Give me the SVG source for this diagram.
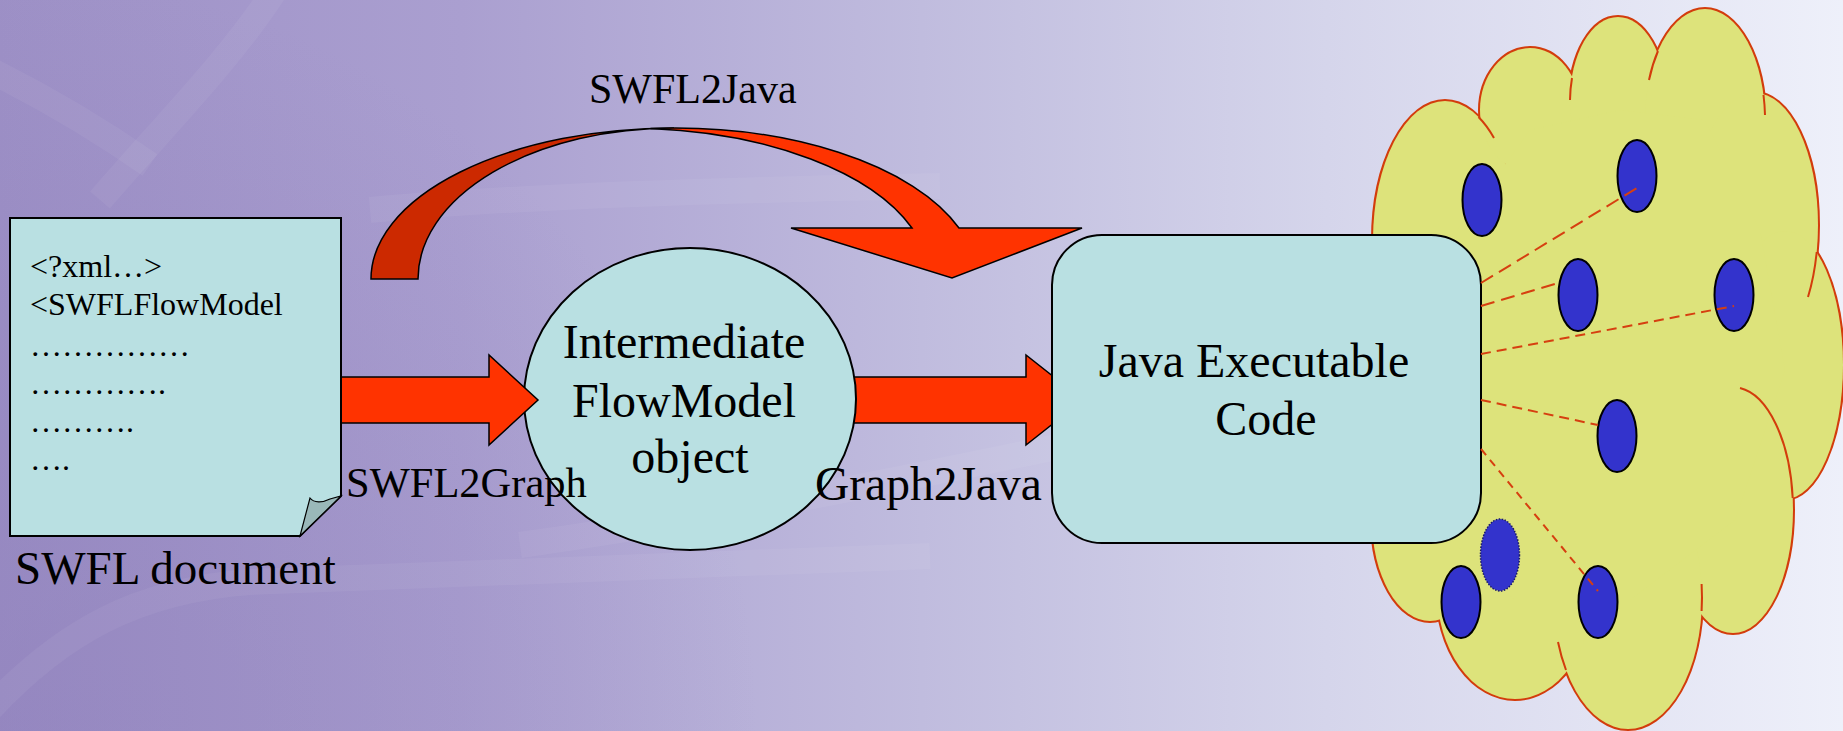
<svg xmlns="http://www.w3.org/2000/svg" xmlns:xlink="http://www.w3.org/1999/xlink" width="1843" height="731" viewBox="0 0 1843 731">
  <style>
    .serif { font-family: "Liberation Serif", "Times New Roman", serif; fill: #000; }
    .node-fill { fill: #b9e0e2; stroke: #000; stroke-width: 2; }
    .block { fill: #ff3300; stroke: #000; stroke-width: 1.5; stroke-linejoin: miter; }
    .block-back { fill: #cc2900; stroke: #000; stroke-width: 1.5; }
    .token { fill: #3333cc; stroke: #000; stroke-width: 2; }
    .token-ghost { fill: #3333cc; stroke: #1a1a66; stroke-width: 1.5; stroke-dasharray: 1.5 1.5; }
    .link { fill: none; stroke: #d63f10; stroke-width: 2; }
    .stub { fill: none; stroke: #d33c0c; stroke-width: 2; }
    .band { fill: none; stroke: #ffffff; stroke-opacity: 0.05; stroke-width: 26; }
  </style>
  <defs>
    <linearGradient id="bg" x1="0" y1="0" x2="1" y2="0">
      <stop offset="0" stop-color="#9d90c6"/>
      <stop offset="0.25" stop-color="#aa9fd0"/>
      <stop offset="0.5" stop-color="#c0bcde"/>
      <stop offset="0.72" stop-color="#d5d5eb"/>
      <stop offset="1" stop-color="#eef0fa"/>
    </linearGradient>
    <radialGradient id="shade" cx="0" cy="731" r="760" gradientUnits="userSpaceOnUse">
      <stop offset="0" stop-color="#8a7bb8" stop-opacity="0.45"/>
      <stop offset="1" stop-color="#8a7bb8" stop-opacity="0"/>
    </radialGradient>
    <!-- lobes of the cloud; drawn twice: stroked, then filled on top so only the outer rim stays -->
    <g id="lobes">
      <ellipse cx="1445" cy="240" rx="72" ry="139"/>
      <ellipse cx="1530" cy="110" rx="50" ry="62"/>
      <ellipse cx="1618" cy="100" rx="48" ry="83"/>
      <ellipse cx="1705" cy="120" rx="60" ry="111"/>
      <ellipse cx="1755" cy="225" rx="63" ry="132"/>
      <ellipse cx="1785" cy="365" rx="58" ry="134"/>
      <ellipse cx="1733" cy="510" rx="60" ry="123"/>
      <ellipse cx="1628" cy="598" rx="74" ry="131"/>
      <ellipse cx="1515" cy="590" rx="78" ry="109"/>
      <ellipse cx="1430" cy="520" rx="58" ry="101"/>
    </g>
  </defs>

  <!-- slide background -->
  <rect x="0" y="0" width="1843" height="731" fill="url(#bg)"/>
  <rect x="0" y="0" width="1843" height="731" fill="url(#shade)"/>
  <g id="backdrop-swirls">
    <path class="band" d="M275,-10 C230,60 160,130 100,200"/>
    <path class="band" d="M-10,70 C40,95 100,130 150,165"/>
    <path class="band" d="M370,210 C520,196 720,190 940,186"/>
    <path class="band" d="M-20,720 C60,630 140,590 250,582 L930,556"/>
    <path class="band" d="M520,545 C700,520 900,480 1090,440"/>
  </g>

  <!-- connectors -->
  <g id="connectors">
    <!-- SWFL2Java curved arrow -->
    <path class="block-back" d="M371,279 A303,151 0 0 1 674,128 A256,151 0 0 0 418,279 Z"/>
    <path class="block" d="M650.5,128.5 A303,151 0 0 1 959,228 L1082,228 L952,278 L791,228 L912,228 A303,151 0 0 0 650.5,128.5 Z"/>
    <!-- Graph2Java block arrow (tail hidden under the ellipse) -->
    <path id="arrow-graph2java" class="block" d="M830,377 L1026,377 L1026,355 L1083,400 L1026,445 L1026,423 L830,423 Z"/>
  </g>

  <g id="node-flowmodel">
    <ellipse class="node-fill" cx="690" cy="399" rx="166" ry="151" stroke-width="1.5"/>
    <text class="serif" font-size="48" text-anchor="middle">
      <tspan x="690" y="358">Intermediate</tspan>
      <tspan x="690" y="417">FlowModel</tspan>
      <tspan x="690" y="473">object</tspan>
    </text>
  </g>

  <g id="connector-swfl2graph">
    <path class="block" d="M330,377 L489,377 L489,355 L538,400 L489,445 L489,423 L330,423 Z"/>
  </g>

  <g id="node-document">
    <path class="node-fill" stroke-width="1.5" d="M10,218 H341 V496 L300,536 H10 Z"/>
    <path fill="#9ab8b9" stroke="#000" stroke-width="1.2" d="M300,536 L310,498 C314,503 322,503 330,499 L341,496 Z"/>
    <g class="serif" font-size="32">
      <text x="30" y="277">&lt;?xml…&gt;</text>
      <text x="30" y="315">&lt;SWFLFlowModel</text>
      <text x="30" y="356">……………</text>
      <text x="30" y="394">………….</text>
      <text x="30" y="432">……….</text>
      <text x="30" y="470">….</text>
    </g>
    <text class="serif" x="15" y="584" font-size="47">SWFL document</text>
  </g>

  <g id="labels">
    <text class="serif" x="589" y="103" font-size="42">SWFL2Java</text>
    <text class="serif" x="346" y="497" font-size="42.5">SWFL2Graph</text>
    <text class="serif" x="815" y="500" font-size="47.5">Graph2Java</text>
  </g>

  <g id="node-runtime-cloud">
    <use xlink:href="#lobes" href="#lobes" fill="#dde37b" stroke="#d33c0c" stroke-width="4"/>
    <use xlink:href="#lobes" href="#lobes" fill="#dde37b" stroke="none"/>
    <polygon fill="#dde37b" points="1450,240 1530,130 1620,110 1705,120 1760,230 1785,370 1735,520 1630,600 1515,600 1430,520"/>
    <path class="stub" d="M1478.5,117 A72,139 0 0 1 1494,138"/>
    <path class="stub" d="M1572,78 A48,83 0 0 0 1570,100"/>
    <path class="stub" d="M1658,51 A60,111 0 0 0 1649,80"/>
    <path class="stub" d="M1763.5,95 A60,111 0 0 1 1765,115"/>
    <path class="stub" d="M1816.7,252 A63,132 0 0 1 1808,297"/>
    <path class="stub" d="M1740,388 A60,123 0 0 1 1792.7,498"/>
    <path class="stub" d="M1701.6,611 A74,131 0 0 0 1701.6,584"/>
    <path class="stub" d="M1566,670 A74,131 0 0 1 1558,642"/>
    <g id="threads">
      <ellipse class="token" cx="1482" cy="200" rx="19.5" ry="36"/>
      <ellipse class="token" cx="1637" cy="176" rx="19.5" ry="36"/>
      <ellipse class="token" cx="1578" cy="295" rx="19.5" ry="36"/>
      <ellipse class="token" cx="1734" cy="295" rx="19.5" ry="36"/>
      <ellipse class="token" cx="1617" cy="436" rx="19.5" ry="36"/>
      <ellipse class="token" cx="1598" cy="602" rx="19.5" ry="36"/>
      <ellipse class="token" cx="1461" cy="602" rx="19.5" ry="36"/>
      <ellipse class="token-ghost" cx="1500" cy="555" rx="19.5" ry="36"/>
    </g>
  </g>

  <g id="node-java-code">
    <rect class="node-fill" x="1052" y="235" width="429" height="308" rx="50" ry="50"/>
    <text class="serif" font-size="48" text-anchor="middle">
      <tspan x="1260" y="377">Java Executable</tspan>
      <tspan x="1266" y="435">Code</tspan>
    </text>
  </g>

  <g id="thread-links">
    <line class="link" x1="1481" y1="283" x2="1637" y2="188" stroke-dasharray="14 7"/>
    <line class="link" x1="1481" y1="306" x2="1558" y2="283" stroke-dasharray="14 7"/>
    <line class="link" x1="1481" y1="354" x2="1734" y2="306" stroke-dasharray="10 6"/>
    <line class="link" x1="1481" y1="400" x2="1598" y2="425" stroke-dasharray="10 6"/>
    <line class="link" x1="1481" y1="449" x2="1598" y2="591" stroke-dasharray="8 6"/>
  </g>
</svg>
